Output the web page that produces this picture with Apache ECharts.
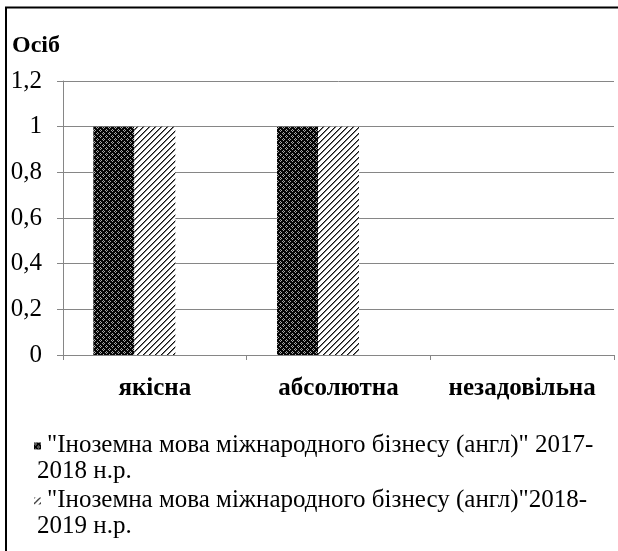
<!DOCTYPE html>
<html>
<head>
<meta charset="utf-8">
<script src="https://cdn.jsdelivr.net/npm/echarts@6/dist/echarts.min.js"></script>
<style>
  html, body { margin: 0; padding: 0; background: #fff; }
  #main { width: 618px; height: 551px; }
</style>
</head>
<body>
<div id="main"></div>
<script>
const categories = ['якісна', 'абсолютна', 'незадовільна'];
const seriesNames = [
  '"Іноземна мова міжнародного бізнесу (англ)" 2017-\n2018 н.р.',
  '"Іноземна мова міжнародного бізнесу (англ)"2018-\n2019 н.р.'
];
const values2017 = [1, 1, 0];
const values2018 = [1, 1, 0];
const values2019 = []; // третій ряд порожній, але займає місце в групі
const yTicks = [0, 0.2, 0.4, 0.6, 0.8, 1, 1.2];

const serif = '"Liberation Serif", "DejaVu Serif", serif';

// візерунок "сітка" (темний)
function darkPattern() {
  const c = document.createElement('canvas');
  c.width = 6; c.height = 6;
  const ctx = c.getContext('2d');
  ctx.fillStyle = '#050505';
  ctx.fillRect(0, 0, 6, 6);
  ctx.fillStyle = '#a8a8a8';
  [[1, 0], [0, 1], [2, 1], [1, 2], [4, 3], [3, 4], [5, 4], [4, 5]].forEach(p => ctx.fillRect(p[0], p[1], 1, 1));
  return c;
}

// візерунок "діагональ"
function hatchPattern() {
  const c = document.createElement('canvas');
  c.width = 6; c.height = 6;
  const ctx = c.getContext('2d');
  ctx.fillStyle = '#fff';
  ctx.fillRect(0, 0, 6, 6);
  for (let i = 0; i < 6; i++) {
    ctx.fillStyle = '#111';
    ctx.fillRect(i, 5 - i, 1, 1);
    ctx.fillStyle = '#777';
    ctx.fillRect((i + 1) % 6, 5 - i, 1, 1);
  }
  return c;
}

const chart = echarts.init(document.getElementById('main'));

const option = {
  animation: false,
  backgroundColor: '#fff',
  title: {
    text: 'Осіб',
    left: 7,
    top: 29,
    textStyle: { fontFamily: serif, fontWeight: 'bold', fontSize: 24, color: '#000' }
  },
  grid: { left: 63, right: 4, top: 81, bottom: 196 },
  legend: {
    orient: 'vertical',
    left: 29,
    top: 427,
    itemWidth: 7,
    itemHeight: 31,
    itemGap: 3,
    icon: 'path://M0,0L7,0L7,7L0,7Z M0,31L0.05,31L0.05,31.05Z',
    symbolKeepAspect: false,
    data: seriesNames,
    formatter: name => {
      const parts = name.split('\n');
      return '{a|' + parts[0] + '}\n{b|' + parts[1] + '}';
    },
    textStyle: {
      fontFamily: serif,
      fontSize: 25,
      color: '#000',
      lineHeight: 26,
      rich: {
        a: { fontFamily: serif, fontSize: 25, lineHeight: 26, padding: [0, 0, 0, 1] },
        b: { fontFamily: serif, fontSize: 25, lineHeight: 26, padding: [0, 0, 0, -9] }
      }
    }
  },
  xAxis: {
    type: 'category',
    data: categories,
    axisLine: { lineStyle: { color: '#868686', width: 1 } },
    axisTick: { show: true, length: 5, lineStyle: { color: '#868686' } },
    axisLabel: {
      interval: 0,
      margin: 21,
      fontFamily: serif,
      fontWeight: 'bold',
      fontSize: 25,
      color: '#000'
    }
  },
  yAxis: {
    type: 'value',
    min: 0,
    max: 1.2,
    interval: 0.2,
    axisLine: { show: true, lineStyle: { color: '#868686' } },
    axisTick: { show: true, length: 6, lineStyle: { color: '#868686' } },
    splitLine: { lineStyle: { color: '#868686', width: 1 } },
    axisLabel: {
      margin: 21,
      fontFamily: serif,
      fontSize: 25,
      color: '#000',
      formatter: v => {
        const t = yTicks.find(x => Math.abs(x - v) < 1e-6);
        return String(t !== undefined ? t : v).replace('.', ',');
      }
    }
  },
  series: [
    {
      name: seriesNames[0],
      type: 'bar',
      data: values2017,
      barWidth: 41,
      barGap: 0,
      itemStyle: { color: { image: darkPattern(), repeat: 'repeat' } }
    },
    {
      name: seriesNames[1],
      type: 'bar',
      data: values2018,
      barWidth: 41,
      barGap: 0,
      itemStyle: { color: { image: hatchPattern(), repeat: 'repeat' } }
    },
    {
      name: 'порожній',
      type: 'bar',
      data: values2019,
      barWidth: 41,
      barGap: 0,
      itemStyle: { color: '#fff' }
    }
  ],
  graphic: [
    {
      type: 'rect',
      silent: true,
      z: 100,
      shape: { x: 6, y: 7.5, width: 700, height: 700 },
      style: { fill: null, stroke: '#000', lineWidth: 2 }
    }
  ]
};

chart.setOption(option);
</script>
</body>
</html>
